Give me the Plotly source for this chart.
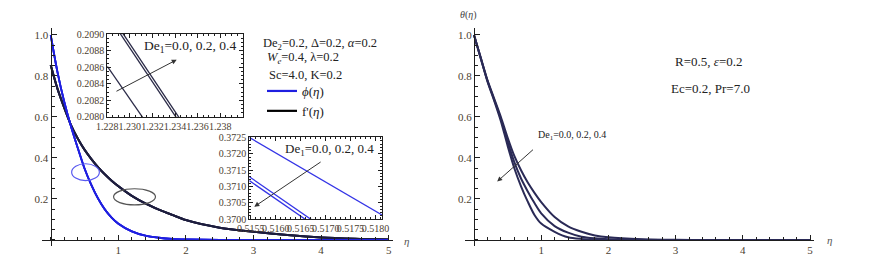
import plotly.graph_objects as go

W, H = 876, 277

# ---------------- data ----------------
eta = [0, 0.1, 0.2, 0.3, 0.4, 0.5, 0.6, 0.7, 0.8, 0.9, 1.0, 1.2, 1.4, 1.6, 1.8, 2.0,
       2.5, 3.0, 3.5, 4.0, 4.5, 5.0]
de1_labels = ["0.0", "0.2", "0.4"]

# concentration phi(eta) for De1 = 0.0, 0.2, 0.4
phi_De00 = [1.0, 0.82, 0.675, 0.555, 0.45, 0.35, 0.27, 0.203, 0.15, 0.11, 0.08, 0.042,
            0.021, 0.011, 0.005, 0.0025, 0.0005, 0.0, 0.0, 0.0, 0.0, 0.0]
phi_De02 = [1.0, 0.819, 0.674, 0.554, 0.449, 0.349, 0.269, 0.2023, 0.1495, 0.1096, 0.0797,
            0.0418, 0.0209, 0.011, 0.005, 0.0025, 0.0005, 0.0, 0.0, 0.0, 0.0, 0.0]
phi_De04 = [1.0, 0.819, 0.674, 0.554, 0.449, 0.349, 0.269, 0.2022, 0.1494, 0.1095, 0.0796,
            0.0418, 0.0209, 0.011, 0.005, 0.0025, 0.0005, 0.0, 0.0, 0.0, 0.0, 0.0]

# velocity f'(eta) for De1 = 0.0, 0.2, 0.4
fp_De00 = [0.854, 0.738, 0.645, 0.56, 0.495, 0.44, 0.395, 0.355, 0.32, 0.289, 0.262, 0.215,
           0.178, 0.148, 0.122, 0.097, 0.06, 0.04, 0.024, 0.012, 0.006, 0.003]
fp_De02 = [0.854, 0.7384, 0.6455, 0.5606, 0.4956, 0.4406, 0.3956, 0.3556, 0.3206, 0.2896,
           0.2626, 0.2156, 0.1785, 0.1484, 0.1223, 0.0972, 0.0601, 0.0401, 0.024, 0.012,
           0.006, 0.003]
fp_De04 = [0.854, 0.7385, 0.6456, 0.5607, 0.4957, 0.4407, 0.3957, 0.3557, 0.3207, 0.2897,
           0.2627, 0.2157, 0.1786, 0.1484, 0.1223, 0.0972, 0.0601, 0.0401, 0.024, 0.012,
           0.006, 0.003]

# temperature theta(eta) for De1 = 0.0, 0.2, 0.4
theta_De00 = [1.0, 0.89, 0.78, 0.69, 0.6, 0.5, 0.41, 0.34, 0.28, 0.23, 0.185, 0.112, 0.066,
              0.04, 0.022, 0.013, 0.004, 0.001, 0.0003, 0.0, 0.0, 0.0]
theta_De02 = [1.0, 0.888, 0.777, 0.685, 0.59, 0.48, 0.38, 0.3, 0.237, 0.18, 0.13, 0.068,
              0.036, 0.016, 0.008, 0.004, 0.001, 0.0, 0.0, 0.0, 0.0, 0.0]
theta_De04 = [1.0, 0.886, 0.774, 0.68, 0.58, 0.46, 0.35, 0.262, 0.187, 0.122, 0.08, 0.04,
              0.013, 0.005, 0.002, 0.001, 0.0, 0.0, 0.0, 0.0, 0.0, 0.0]

# zoomed insets
inset1_eta = [1.228, 1.240]
inset1_fp = [[0.20861, 0.20625], [0.20924, 0.20679], [0.20929, 0.20684]]
inset2_eta = [0.51547, 0.51813]
inset2_phi = [[0.37250, 0.37013], [0.37130, 0.36849], [0.37118, 0.36837]]

main_xticks = [1, 2, 3, 4, 5]
main_yticks = [0.2, 0.4, 0.6, 0.8, 1.0]
inset1_xticks = [1.228, 1.230, 1.232, 1.234, 1.236, 1.238]
inset1_yticks = [0.2080, 0.2082, 0.2084, 0.2086, 0.2088, 0.2090]
inset2_xticks = [0.5155, 0.5160, 0.5165, 0.5170, 0.5175, 0.5180]
inset2_yticks = [0.3700, 0.3705, 0.3710, 0.3715, 0.3720, 0.3725]

# ---------------- styling ----------------
SERIF = "Liberation Serif"
TICKC = "#4b3e30"
AXC = "#1e1e1e"
BLUE = "#1f1fe0"
NAVY = "#1d1d3e"
NAVY2 = "#2a2a56"

def fx(p):
    return p / W

def fy(p):
    return 1 - p / H

# pixel mapping of main panels
Y0PX, SY = 240.0, 205.0
L_X0PX, L_SX = 50.7, 67.6
R_X0PX, R_SX = 474.0, 67.2
XR = [-0.13, 5.06]
YR = [-0.030, 1.035]

def ydom():
    return [fy(Y0PX - SY * YR[0]), fy(Y0PX - SY * YR[1])]

def xdom(x0, s):
    return [fx(x0 + s * XR[0]), fx(x0 + s * XR[1])]

fig = go.Figure()

def add(x, y, xa, ya, color, width, name=None, legend=False, shape="spline"):
    fig.add_trace(go.Scatter(x=x, y=y, xaxis=xa, yaxis=ya, mode="lines",
                             line=dict(color=color, width=width, shape=shape,
                                       smoothing=0.8),
                             name=name, showlegend=legend, hoverinfo="skip"))

# left panel
for s in [fp_De00, fp_De02, fp_De04]:
    add(eta, s, "x", "y", NAVY, 2.0)
for s in [phi_De00, phi_De02, phi_De04]:
    add(eta, s, "x", "y", BLUE, 1.8)
# legend entries
add([None], [None], "x", "y", BLUE, 2.2, name="<i>ϕ</i>(<i>η</i>)", legend=True)
add([None], [None], "x", "y", "#000000", 2.2, name="f'(<i>η</i>)", legend=True)

# right panel
for s in [theta_De00, theta_De02, theta_De04]:
    add(eta, s, "x2", "y2", NAVY2, 2.0)

# insets
for s in inset1_fp:
    add(inset1_eta, s, "x3", "y3", "#2b2b48", 1.3, shape="linear")
for s in inset2_phi:
    add(inset2_eta, s, "x4", "y4", "#3434e6", 1.3, shape="linear")

tickfont = dict(family=SERIF, size=11, color=TICKC)
ins_tickfont = dict(family=SERIF, size=10, color=TICKC)

def main_x(x0, s):
    return dict(domain=xdom(x0, s), range=XR, anchor="free", position=fy(Y0PX),
                automargin=False,
                showgrid=False, zeroline=False, showline=True, linecolor=AXC,
                linewidth=1.3, ticks="inside", ticklen=5, tickwidth=1, tickcolor=AXC,
                tickmode="array", tickvals=main_xticks,
                ticktext=[str(v) for v in main_xticks], tickangle=0,
                tickfont=tickfont,
                minor=dict(tick0=0, dtick=0.2, ticks="inside", ticklen=3,
                           tickcolor=AXC, showgrid=False))

def main_y(x0):
    return dict(domain=ydom(), range=YR, anchor="free", position=fx(x0),
                automargin=False,
                showgrid=False, zeroline=False, showline=True, linecolor=AXC,
                linewidth=1.3, ticks="inside", ticklen=5, tickwidth=1, tickcolor=AXC,
                tickmode="array", tickvals=main_yticks,
                ticktext=["%.1f" % v for v in main_yticks],
                tickfont=tickfont,
                minor=dict(tick0=0, dtick=0.05, ticks="inside", ticklen=3,
                           tickcolor=AXC, showgrid=False))

def inset_axes(xd, yd, xr, yr, xt, xtt, yt, ytt, xminor, yminor, xa, ya):
    xax = dict(domain=[fx(xd[0]), fx(xd[1])], range=xr, anchor=ya, showgrid=False,
               automargin=False,
               zeroline=False, showline=True, mirror="ticks", linecolor=AXC,
               linewidth=1, ticks="inside", ticklen=4, tickcolor=AXC,
               tickmode="array", tickvals=xt, ticktext=xtt, tickangle=0,
               tickfont=ins_tickfont,
               minor=dict(dtick=xminor, ticks="inside", ticklen=2, tickcolor=AXC))
    yax = dict(domain=[fy(yd[1]), fy(yd[0])], range=yr, anchor=xa, showgrid=False,
               automargin=False,
               zeroline=False, showline=True, mirror="ticks", linecolor=AXC,
               linewidth=1, ticks="inside", ticklen=4, tickcolor=AXC,
               tickmode="array", tickvals=yt, ticktext=ytt,
               tickfont=ins_tickfont,
               minor=dict(dtick=yminor, ticks="inside", ticklen=2, tickcolor=AXC))
    return xax, yax

x3, y3 = inset_axes([107.3, 242.7], [33.7, 117.3], [1.228, 1.2400], [0.207995, 0.209005],
                    inset1_xticks, ["%.3f" % v for v in inset1_xticks],
                    inset1_yticks, ["%.4f" % v for v in inset1_yticks],
                    0.0005, 0.00005, "x3", "y3")
x4, y4 = inset_axes([249.3, 382.0], [137.3, 219.3], [0.51547, 0.51813], [0.369995, 0.372505],
                    inset2_xticks, ["%.4f" % v for v in inset2_xticks],
                    inset2_yticks, ["%.4f" % v for v in inset2_yticks],
                    0.0001, 0.0001, "x4", "y4")

ann = []

def text(t, cx, cy, size=13, color="#222222", xanchor="center"):
    ann.append(dict(text=t, x=fx(cx), y=fy(cy), xref="paper", yref="paper",
                    showarrow=False, xanchor=xanchor, yanchor="middle",
                    font=dict(family=SERIF, size=size, color=color)))

de_txt = "De<sub>1</sub>=" + ", ".join(de1_labels)
text("De<sub>2</sub>=0.2, Δ=0.2, <i>α</i>=0.2", 320, 44, size=12.5)
text("<i>W</i><sub><i>e</i></sub>=0.4, λ=0.2", 303, 58, size=12.5)
text("Sc=4.0, K=0.2", 305, 75, size=12.5)
text(de_txt, 190, 46, size=13.5)
text(de_txt, 329, 149, size=13)
text("<i>η</i>", 406, 241, size=11, color="#555555")
text("<i>η</i>", 829, 240, size=11, color="#555555")
text("<i>θ</i>(<i>η</i>)", 469, 15, size=10, color="#444444")
text("R=0.5, <i>ε</i>=0.2", 708, 62, size=13)
text("Ec=0.2, Pr=7.0", 710, 88, size=13)
text(de_txt, 572, 135, size=10)

# arrows (data coordinates of the respective axes)
def arrow(xa, ya, tail, head):
    ann.append(dict(x=head[0], y=head[1], ax=tail[0], ay=tail[1], xref=xa, yref=ya,
                    axref=xa, ayref=ya, showarrow=True, arrowhead=2, arrowsize=1,
                    arrowwidth=1, arrowcolor="#333333", text=""))

arrow("x3", "y3", (1.22868, 0.20830), (1.23415, 0.20869))
arrow("x4", "y4", (0.51693, 0.37178), (0.51557, 0.37038))
arrow("x2", "y2", (0.90, 0.447), (0.345, 0.285))

shapes = [
    dict(type="circle", xref="x", yref="y", x0=0.31, x1=0.72, y0=0.29, y1=0.372,
         line=dict(color="#5a5af0", width=1.2)),
    dict(type="circle", xref="x", yref="y", x0=0.93, x1=1.55, y0=0.171, y1=0.25,
         line=dict(color="#555555", width=1.2)),
]

fig.update_layout(
    width=W, height=H,
    margin=dict(l=0, r=0, t=0, b=0, pad=0, autoexpand=False),
    paper_bgcolor="white", plot_bgcolor="white",
    xaxis=main_x(L_X0PX, L_SX), yaxis=main_y(L_X0PX),
    xaxis2=main_x(R_X0PX, R_SX), yaxis2=main_y(R_X0PX),
    xaxis3=x3, yaxis3=y3, xaxis4=x4, yaxis4=y4,
    annotations=ann, shapes=shapes,
    legend=dict(x=fx(262), y=fy(76), xanchor="left", yanchor="top",
                bgcolor="rgba(0,0,0,0)", font=dict(family=SERIF, size=13, color="#222"),
                tracegroupgap=0, itemwidth=30),
    showlegend=True,
)

fig.write_html("out.html", config={"displayModeBar": False},
               post_script="document.body.style.margin='0';document.body.style.overflow='hidden';")
